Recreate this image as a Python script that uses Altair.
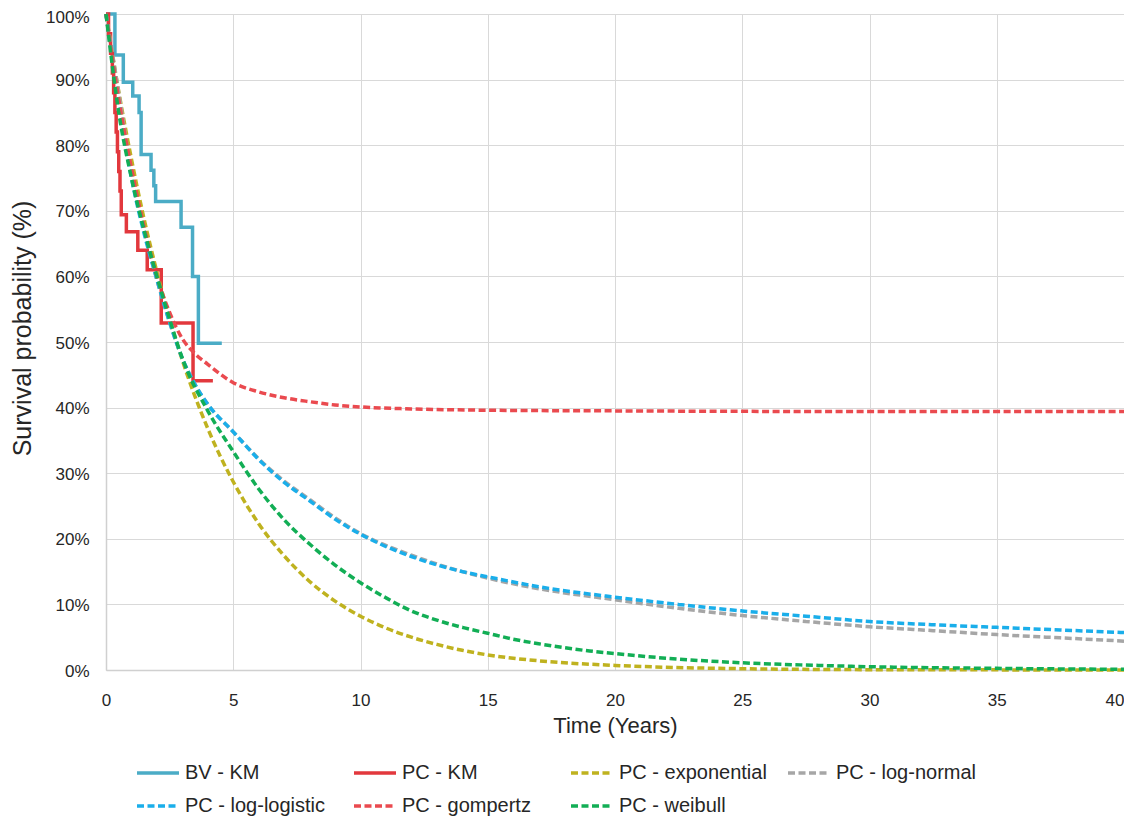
import altair as alt
import pandas as pd

# ---- data (time in years, survival in %) ----
bv_km_t = [0, 0.35, 0.68, 1.05, 1.30, 1.38, 1.77, 1.88, 1.95, 2.95, 3.40, 3.63, 4.55]
bv_km_s = [100, 93.75, 89.6, 87.5, 85.0, 78.6, 76.2, 73.8, 71.4, 67.5, 60.0, 49.8, 49.8]

pc_km_t = [0, 0.10, 0.18, 0.25, 0.30, 0.35, 0.40, 0.45, 0.50, 0.55, 0.60, 0.80, 1.25, 1.62, 2.17, 3.42, 4.20]
pc_km_s = [100, 97, 94, 91, 88, 85, 82, 79, 76, 73, 69.4, 66.8, 64.0, 61.0, 52.9, 44.1, 44.1]

exp_t = [0, 0.5, 1, 1.5, 2, 2.5, 3, 4, 5, 6, 7, 8, 9, 10, 11, 12, 13, 14, 15, 17, 20, 25, 30, 35, 40]
exp_s = [100, 88.2, 77.9, 68.7, 60.7, 53.5, 47.2, 36.8, 28.7, 22.3, 17.4, 13.5, 10.5, 8.2, 6.4, 5.0, 3.9, 3.0, 2.3, 1.4, 0.7, 0.2, 0.05, 0.02, 0.0]

lnorm_t = [0, 0.5, 1, 1.5, 2, 2.5, 3, 3.5, 4, 5, 6, 7, 8, 9, 10, 12, 14, 15, 17, 20, 22.5, 25, 27.5, 30, 32.5, 35, 37.5, 40]
lnorm_s = [100, 88, 76, 67, 59.5, 53, 47.5, 43.5, 40.5, 36.3, 32.2, 28.8, 26, 23.2, 20.8, 17.5, 15, 14, 12.4, 10.7, 9.4, 8.3, 7.4, 6.6, 6.0, 5.4, 4.9, 4.4]

llog_t = [0, 0.5, 1, 1.5, 2, 2.5, 3, 3.5, 4, 5, 6, 7, 8, 9, 10, 12, 14, 15, 17, 20, 22.5, 25, 27.5, 30, 32.5, 35, 37.5, 40]
llog_s = [100, 86.5, 75, 66.5, 59.5, 53, 47.5, 43.5, 40.5, 36.3, 32.1, 28.6, 25.8, 23, 20.7, 17.3, 15, 14.2, 12.7, 11.1, 10, 9.0, 8.2, 7.4, 6.9, 6.5, 6.1, 5.7]

gomp_t = [0, 0.5, 1, 1.5, 2, 2.5, 3, 3.5, 4, 5, 6, 7, 8, 9, 10, 12, 15, 20, 30, 40]
gomp_s = [100, 87, 76.5, 67.5, 60, 54.5, 50.5, 48.2, 46.6, 43.8, 42.4, 41.5, 40.9, 40.4, 40.1, 39.8, 39.6, 39.5, 39.4, 39.4]

weib_t = [0, 0.5, 1, 1.5, 2, 2.5, 3, 4, 5, 6, 7, 8, 9, 10, 11, 12, 13, 14, 15, 16, 17, 18, 19, 20, 22, 25, 28, 30, 35, 40]
weib_s = [100, 85, 75, 67, 60, 53.5, 47.5, 39.5, 33.3, 27.6, 22.9, 19.2, 16.0, 13.3, 11.0, 9.0, 7.6, 6.5, 5.6, 4.7, 4.0, 3.4, 2.9, 2.5, 1.8, 1.1, 0.7, 0.5, 0.25, 0.1]

series = ["BV - KM", "PC - KM", "PC - exponential", "PC - log-normal",
          "PC - log-logistic", "PC - gompertz", "PC - weibull"]
colors = ["#4BACC6", "#E2383D", "#BFB21F", "#A6A6A6", "#1AAEEA", "#EA4A4F", "#12AE55"]
dashes = [[1, 0], [1, 0], [7, 3.5], [7, 3.5], [7, 3.5], [7, 3.5], [7, 3.5]]
widths = [3.5, 3.5, 2.6, 2.6, 2.6, 2.6, 2.6]

tables = [(bv_km_t, bv_km_s), (pc_km_t, pc_km_s), (exp_t, exp_s), (lnorm_t, lnorm_s),
          (llog_t, llog_s), (gomp_t, gomp_s), (weib_t, weib_s)]

rows = []
for name, (ts, ss) in zip(series, tables):
    for i, (t, s) in enumerate(zip(ts, ss)):
        rows.append({"series": name, "t": t, "s": s, "i": i})
df = pd.DataFrame(rows)

FONT = "Liberation Sans"

base = alt.Chart(df).encode(
    x=alt.X("t:Q", scale=alt.Scale(domain=[0, 40], nice=False),
            axis=alt.Axis(title="Time (Years)", values=list(range(0, 41, 5)),
                          grid=True, ticks=False, labelPadding=22, labelFlush=False,
                          labelAlign=alt.condition("datum.value == 40", alt.value("right"), alt.value("center")),
                          titleY=55, titleBaseline="middle", titleFontSize=22)),
    y=alt.Y("s:Q", scale=alt.Scale(domain=[0, 100], nice=False),
            axis=alt.Axis(title="Survival probability (%)", values=list(range(0, 101, 10)),
                          labelExpr="datum.value + '%'", grid=True, ticks=False,
                          labelPadding=17, labelFlush=False,
                          labelOffset=alt.condition("datum.value == 100", alt.value(3), alt.value(1)),
                          titleX=-84, titleY=314, titleFontSize=25,
                          titleBaseline="middle", titleAngle=-90)),
    color=alt.Color("series:N", scale=alt.Scale(domain=series, range=colors),
                    legend=alt.Legend(title=None, orient="none", legendX=29, legendY=736,
                                      direction="horizontal", columns=4,
                                      symbolType="stroke", symbolSize=1764,
                                      gridAlign="all", columnPadding=14, rowPadding=-3,
                                      labelFontSize=20, labelFont=FONT, labelColor="#262626",
                                      labelOffset=4, padding=0)),
    strokeDash=alt.StrokeDash("series:N", scale=alt.Scale(domain=series, range=dashes)),
    strokeWidth=alt.StrokeWidth("series:N", scale=alt.Scale(domain=series, range=widths)),
    order="i:Q",
)

layers = []
for k, name in enumerate(series):
    interp = "step-after" if k < 2 else "monotone"
    layers.append(base.transform_filter(alt.datum.series == name).mark_line(interpolate=interp))

chart = alt.layer(*layers).properties(
    width=1018, height=656,
    autosize=alt.AutoSizeParams(type="none"),
    padding={"left": 98, "top": 6, "right": 0, "bottom": 146},
).configure_view(stroke=None).configure_axis(
    gridColor="#D9D9D9", gridWidth=1, domainColor="#D0D0D0", domainWidth=1.5,
    labelFont=FONT, labelFontSize=17, labelColor="#262626",
    titleFont=FONT, titleFontWeight="normal", titleColor="#262626",
)

chart.save("out.html", embed_options={"renderer": "svg", "actions": False})
